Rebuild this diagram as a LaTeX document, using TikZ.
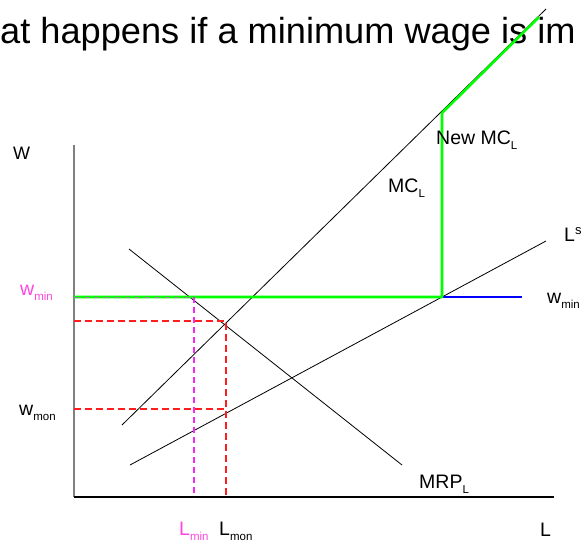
\documentclass[tikz,border=0pt]{standalone}
\usepackage{fontspec}
\setmainfont{Liberation Sans}
\usetikzlibrary{positioning}
\definecolor{mingreen}{RGB}{0,255,0}
\definecolor{minblue}{RGB}{0,0,255}
\definecolor{minpink}{RGB}{255,70,220}
\definecolor{dashmag}{RGB}{245,40,245}
\definecolor{dashred}{RGB}{255,30,30}
\newcommand{\lsub}[1]{\raisebox{-5pt}{\fontsize{11.5}{12}\selectfont #1}}
\newcommand{\lsup}[1]{\raisebox{7pt}{\fontsize{13}{14}\selectfont #1}}

\begin{document}
\begin{tikzpicture}[x=1pt, y=-1pt,
    lbl/.style={font=\fontsize{19.5}{22}\selectfont, inner sep=0pt, anchor=base west},
    crv/.style={black, line width=0.8pt},
    newmc/.style={mingreen, line width=2.6pt, line join=round},
    guide/.style={dashred, line width=1.6pt, dash pattern=on 7pt off 4pt},
    mguide/.style={dashmag, line width=1.6pt, dash pattern=on 6pt off 4pt}
  ]
    \useasboundingbox (0,0) rectangle (585,546);

    % title along the top edge
    \node[lbl, font=\fontsize{36.2}{40}\selectfont] (title) at (0,43)
      {at happens if a minimum wage is im};

    % key points
    \coordinate (O) at (74,497);
    \coordinate (ytop) at (74,145);
    \coordinate (xend) at (554,497);
    \coordinate (mc0) at (122,425);
    \coordinate (mc1) at (546,9);
    \coordinate (mrp0) at (129,249);
    \coordinate (mrp1) at (402,465);
    \coordinate (ls0) at (130,465);
    \coordinate (ls1) at (546,241);
    \coordinate (kink) at (442,297);
    \coordinate (kinkTop) at (442,113);
    \coordinate (greenEnd) at (539,17);
    \coordinate (blueEnd) at (522,297);
    \coordinate (wminY) at (74,297);
    \coordinate (Emin) at (194,297);
    \coordinate (Lmin) at (194,497);
    \coordinate (Emon) at (226,321);
    \coordinate (wmonHi) at (74,321);
    \coordinate (wmonY) at (74,409);
    \coordinate (Smon) at (226,409);
    \coordinate (Lmon) at (226,497);

    % axes
    \draw[gray, line width=1.4pt] (O) -- (ytop);
    \draw[black, line width=1.2pt] (O) -- (xend);

    % curves
    \draw[crv] (mc0) -- (mc1);
    \draw[crv] (mrp0) -- (mrp1);
    \draw[crv] (ls0) -- (ls1);

    % minimum wage line and new marginal cost
    \draw[minblue, line width=1.3pt] (kink) -- (blueEnd);
    \draw[newmc] (wminY) -- (kink) -- (kinkTop) -- (greenEnd);

    % dashed guides
    \draw[guide] (wmonHi) -- (Emon) -- (Lmon);
    \draw[guide] (wmonY) -- (Smon);
    \draw[mguide] (Emin) -- (Lmin);
    \draw[dashmag, line width=1pt, dash pattern=on 6pt off 4pt, opacity=0.5] (wminY) -- (Emin);

    % labels
    \node[lbl, font=\fontsize{18}{20}\selectfont] (Wlab) at (13,159) {W};
    \node[lbl, text=minpink] (wminL) at (20,295) {w\lsub{min}};
    \node[lbl] (wmonL) at (19,415) {w\lsub{mon}};
    \node[lbl] (wminR) at (547,303) {w\lsub{min}};
    \node[lbl] (LsLab) at (564,241.7) {L\lsup{s}};
    \node[lbl] (MClab) at (388,192) {MC\lsub{L}};
    \node[lbl] (NewMC) at (436,144) {New MC\lsub{L}};
    \node[lbl] (MRPlab) at (419,488) {MRP\lsub{L}};
    \node[lbl, text=minpink] (LminLab) at (179,535.7) {L\lsub{min}};
    \node[lbl] (LmonLab) at (219,535.7) {L\lsub{mon}};
    \node[lbl] (Llab) at (540,536) {L};
\end{tikzpicture}
\end{document}
